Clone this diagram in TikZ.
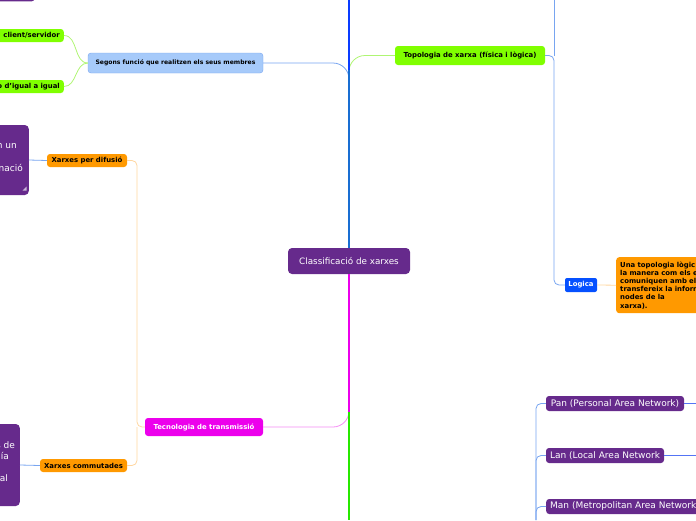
\documentclass[tikz,border=0pt]{standalone}
\usepackage{fontspec}
\setmainfont{DejaVu Sans}

\definecolor{mmpurple}{RGB}{102,42,140}
\definecolor{mmlime}{RGB}{128,255,0}
\definecolor{mmorange}{RGB}{255,153,0}
\definecolor{mmmagenta}{RGB}{236,0,236}
\definecolor{mmblue}{RGB}{5,80,255}
\definecolor{mmsky}{RGB}{166,202,250}
\definecolor{skyline}{RGB}{120,165,240}
\definecolor{limeline}{RGB}{175,245,115}
\definecolor{orangeline}{RGB}{255,214,160}
\definecolor{pinkline}{RGB}{245,140,245}
\definecolor{trunkblue}{RGB}{10,60,255}
\definecolor{trunkmid}{RGB}{25,110,210}
\definecolor{trunkgreen}{RGB}{40,232,0}

\tikzset{
  bold/.style={font=\fontsize{6.9}{8.2}\selectfont\bfseries},
  idea/.style={rounded corners=3pt, inner sep=0pt, minimum height=13pt},
  purplebox/.style={idea, fill=mmpurple, text=white, font=\fontsize{9}{11}\selectfont, minimum height=15pt},
  link/.style={line width=0.8pt},
  trunk/.style={line width=2.4pt},
}

\begin{document}
\begin{tikzpicture}[x=1pt,y=-1pt]
\useasboundingbox (0,0) rectangle (696,520);
\clip (0,0) rectangle (696,520);

% central topic
\node[purplebox, minimum width=122pt, minimum height=26pt, rounded corners=4pt,
  font=\fontsize{8.8}{10}\selectfont] (cls) at (349,261) {Classificació de xarxes};

% left side
\node[purplebox, anchor=south east, minimum width=50pt, minimum height=20pt] (toppur) at (35,1.5) {};
\node[idea, fill=mmsky, draw=skyline, minimum width=175pt, minimum height=20pt,
  font=\fontsize{6.1}{7}\selectfont\bfseries] (seg) at (175.5,63) {Segons funció que realitzen els seus membres};
\node[idea, fill=mmlime, bold, anchor=east, text width=90pt, align=right, inner xsep=4pt] (cs) at (64,35.5) {client/servidor};
\node[idea, fill=mmlime, bold, anchor=east, text width=90pt, align=right, inner xsep=4pt] (ig) at (64,86.5) {o d'igual a igual};

\node[purplebox, anchor=east, minimum width=45pt, minimum height=70pt, rounded corners=4pt] (bcast) at (29,160) {};
\node[text=white, font=\fontsize{9}{11}\selectfont, anchor=base east, inner sep=0pt] (bcast1) at (17,148) {n un};
\node[text=white, font=\fontsize{9}{11}\selectfont, anchor=base east, inner sep=0pt] (bcast2) at (23,171) {nació};
\fill[white!65!mmpurple] (26.5,186.5) -- (26.5,190.5) -- (22.5,190.5) -- cycle;

\node[purplebox, anchor=east, minimum width=40pt, minimum height=82pt, rounded corners=4pt] (sw) at (20,465) {};
\node[text=white, font=\fontsize{9}{11}\selectfont, anchor=base east, inner sep=0pt] (sw1) at (15,448) {s de};
\node[text=white, font=\fontsize{9}{11}\selectfont, anchor=base east, inner sep=0pt] (sw2) at (9,459) {gía};
\node[text=white, font=\fontsize{9}{11}\selectfont, anchor=base east, inner sep=0pt] (sw3) at (8,481) {al};

\node[idea, fill=mmorange, bold, minimum width=80pt] (dif) at (87,160.5) {Xarxes per difusió};
\node[idea, fill=mmorange, bold, minimum width=87pt] (com) at (83.5,465.5) {Xarxes commutades};
\node[idea, fill=mmmagenta, text=white, bold, minimum width=118pt, minimum height=18pt] (tec) at (204,427) {Tecnologia de transmissió};

% right side
\node[idea, fill=mmlime, bold, minimum width=150pt, minimum height=19pt] (topo) at (470,55.5) {Topologia de xarxa (física i lògica)};
\node[idea, fill=mmblue, text=white, bold, minimum width=32pt, minimum height=14pt, rounded corners=2pt] (log) at (581,285) {Logica};
\node[idea, fill=mmorange, bold, anchor=north west, text width=100pt, align=left,
  inner xsep=4pt, minimum height=56pt] (una) at (616,257)
  {Una topologia lògic\\la manera com els e\\comuniquen amb el\\transfereix la inform\\nodes de la\\xarxa).};

\node[purplebox, minimum width=138pt] (pan) at (615,403.5) {Pan (Personal Area Network)};
\node[purplebox, minimum width=118pt] (lan) at (605,455.5) {Lan (Local Area Network};
\node[purplebox, anchor=west, inner xsep=4pt] (man) at (546,506.5) {Man (Metropolitan Area Network};

% loose ends
\coordinate (top) at (349,0);
\coordinate (midj) at (349,70);
\coordinate (bottom) at (349,520);
\coordinate (tecturn) at (349,412);
\coordinate (tecj) at (137,427);
\coordinate (topj) at (554,55.5);
\coordinate (topup) at (554,0);
\coordinate (netj) at (536,520);
\coordinate (panr) at (696,403.5);
\coordinate (lanr) at (696,455.5);

% connectors
\draw[link, skyline, rounded corners=16pt] (cls.north) |- (seg.east);
\draw[link, limeline, rounded corners=16pt] (cls.north) |- (topo.west);
\draw[link, pinkline, rounded corners=16pt] (cls.south) |- (tec.east);
\draw[link, limeline] (seg.west) to[out=180,in=0] (cs.east);
\draw[link, limeline] (seg.west) to[out=180,in=0] (ig.east);
\draw[link, orangeline, rounded corners=5pt] (tec.west) -- (tecj) |- (dif.east);
\draw[link, orangeline, rounded corners=5pt] (tecj) |- (com.east);
\draw[link, skyline] (bcast.east) -- (dif.west);
\draw[link, skyline] (sw.east) -- (com.west);
\draw[link, skyline, rounded corners=5pt] (topo.east) -- (topj) |- (log.west);
\draw[link, skyline] (topj) -- (topup);
\draw[link, orangeline] (log.east) -- (una.west);
\draw[link, skyline, rounded corners=5pt] (netj) |- (pan.west);
\draw[link, skyline, rounded corners=5pt] (netj) |- (lan.west);
\draw[link, skyline, rounded corners=5pt] (netj) |- (man.west);
\draw[link, skyline!70!blue] (pan.east) -- (panr);
\draw[link, skyline!70!blue] (lan.east) -- (lanr);

% trunk
\draw[trunk, trunkblue] (cls.north) -- (top);
\draw[trunk, trunkmid] (cls.north) -- (midj);
\draw[trunk, trunkgreen] (cls.south) -- (bottom);
\draw[trunk, mmmagenta] (cls.south) -- (tecturn);
\end{tikzpicture}
\end{document}
